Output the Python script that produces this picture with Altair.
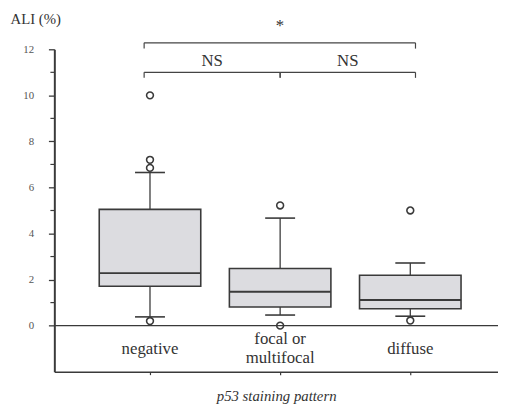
import altair as alt
import pandas as pd

# ---- data ----
categories = ["negative", "focal or multifocal", "diffuse"]
label_lines = [["negative"], ["focal or", "multifocal"], ["diffuse"]]
lower_whisker = [0.38, 0.46, 0.41]
q1 = [1.71, 0.81, 0.73]
median = [2.28, 1.47, 1.11]
q3 = [5.05, 2.48, 2.19]
upper_whisker = [6.65, 4.67, 2.72]
outlier_group = [0, 0, 0, 0, 1, 1, 2, 2]
outlier_value = [10.0, 7.2, 6.85, 0.2, 5.22, 0.0, 5.0, 0.22]
y_ticks = list(range(0, 13))
comparisons = ["negative vs focal", "focal vs diffuse", "negative vs diffuse"]
comparison_labels = ["NS", "NS", "*"]

FONT = "Liberation Serif"
DARK = "#3a3a3a"

pos = [i + 1 for i in range(len(categories))]
boxes = pd.DataFrame({
    "cat": categories, "pos": pos,
    "lw": lower_whisker, "q1": q1, "med": median, "q3": q3, "uw": upper_whisker,
})
boxes["left"] = boxes["pos"] - 0.39
boxes["right"] = boxes["pos"] + 0.39
boxes["capl"] = boxes["pos"] - 0.115
boxes["capr"] = boxes["pos"] + 0.115

outliers = pd.DataFrame({"pos": [pos[g] for g in outlier_group], "v": outlier_value})

xscale = alt.Scale(domain=[0.265, 3.674], nice=False, zero=False)
yscale = alt.Scale(domain=[-2, 12], nice=False, zero=False)

AX_X = alt.Axis(values=pos, labels=False, tickSize=3, title="p53 staining pattern",
                titleFont=FONT, titleFontStyle="italic", titleFontSize=15, titlePadding=14,
                grid=False, domainWidth=1.5, tickWidth=1.2)
AX_Y = alt.Axis(values=[v for v in y_ticks if v % 2 == 0], tickSize=6, labelPadding=15,
                labelFont=FONT, labelFontSize=11, grid=False, title="ALI (%)", titleAngle=0,
                titleFont=FONT, titleFontSize=15, titleAlign="left",
                titleBaseline="alphabetic", titleX=-45, titleY=-26, domainWidth=2,
                tickWidth=1.3)

X = lambda f: alt.X(f, type="quantitative", scale=xscale, axis=AX_X)
Y = lambda f: alt.Y(f, type="quantitative", scale=yscale, axis=AX_Y)

base = alt.Chart(boxes)

minor = alt.Chart(pd.DataFrame({"t": [v for v in y_ticks if v % 2 == 1]})).mark_rule(
    color=DARK, strokeWidth=1.2).encode(x=alt.value(-4), x2=alt.value(0), y=Y("t"))

zero_line = alt.Chart(pd.DataFrame({"z": [0]})).mark_rule(color=DARK, strokeWidth=1.2).encode(
    y=Y("z"))

whisk_up = base.mark_rule(color=DARK, strokeWidth=1.3).encode(x=X("pos"), y=Y("q3"), y2="uw")
whisk_dn = base.mark_rule(color=DARK, strokeWidth=1.3).encode(x=X("pos"), y=Y("lw"), y2="q1")
cap_up = base.mark_rule(color=DARK, strokeWidth=1.6).encode(x=X("capl"), x2="capr", y=Y("uw"))
cap_dn = base.mark_rule(color=DARK, strokeWidth=1.6).encode(x=X("capl"), x2="capr", y=Y("lw"))
box = base.mark_rect(fill="#dcdce0", stroke=DARK, strokeWidth=1.6).encode(
    x=X("left"), x2="right", y=Y("q1"), y2="q3")
med = base.mark_rule(color=DARK, strokeWidth=2).encode(x=X("left"), x2="right", y=Y("med"))

pts = alt.Chart(outliers).mark_point(shape="circle", size=48, filled=False, color=DARK,
                                     strokeWidth=1.6, opacity=1).encode(x=X("pos"), y=Y("v"))

# category labels inside the plot
lab_rows = []
for p, lines in zip(pos, label_lines):
    if len(lines) == 1:
        lab_rows.append({"pos": p, "txt": lines[0], "y": -1.24})
    else:
        lab_rows.append({"pos": p, "txt": lines[0], "y": -0.81})
        lab_rows.append({"pos": p, "txt": lines[1], "y": -1.62})
cat_text = alt.Chart(pd.DataFrame(lab_rows)).mark_text(
    font=FONT, fontSize=17, color="#333", baseline="alphabetic").encode(
    x=X("pos"), y=Y("y"), text="txt:N")

# significance brackets
brackets = pd.DataFrame({
    "name": comparisons,
    "x1": [0.955, 2.0, 0.955], "x2": [2.0, 3.04, 3.04],
    "y": [11.0, 11.0, 12.28], "ylow": [10.76, 10.76, 12.03],
    "lab": comparison_labels, "ly": [11.5, 11.5, 13.0],
})
brackets["xm"] = (brackets["x1"] + brackets["x2"]) / 2
br = alt.Chart(brackets)
br_h = br.mark_rule(color="#444", strokeWidth=1.2).encode(x=X("x1"), x2="x2", y=Y("y"))
br_l = br.mark_rule(color="#444", strokeWidth=1.2).encode(x=X("x1"), y=Y("y"), y2="ylow")
br_r = br.mark_rule(color="#444", strokeWidth=1.2).encode(x=X("x2"), y=Y("y"), y2="ylow")
br_t = br.mark_text(font=FONT, fontSize=17, color="#333", baseline="middle").encode(
    x=X("xm"), y=Y("ly"), text="lab:N")

chart = alt.layer(
    minor, zero_line, whisk_up, whisk_dn, cap_up, cap_dn, box, med, pts,
    cat_text, br_h, br_l, br_r, br_t,
).properties(
    width=450, height=327,
    autosize=alt.AutoSizeParams(type="none"),
    padding={"left": 47, "top": 39, "right": 0, "bottom": 38},
    background="white",
).configure_view(stroke=None).configure_axis(
    labelFont=FONT, titleFont=FONT, labelColor="#555", titleColor="#333",
    titleFontWeight="normal", domainColor=DARK, tickColor=DARK,
)

chart.save("out.html", embed_options={"renderer": "svg", "actions": False})
